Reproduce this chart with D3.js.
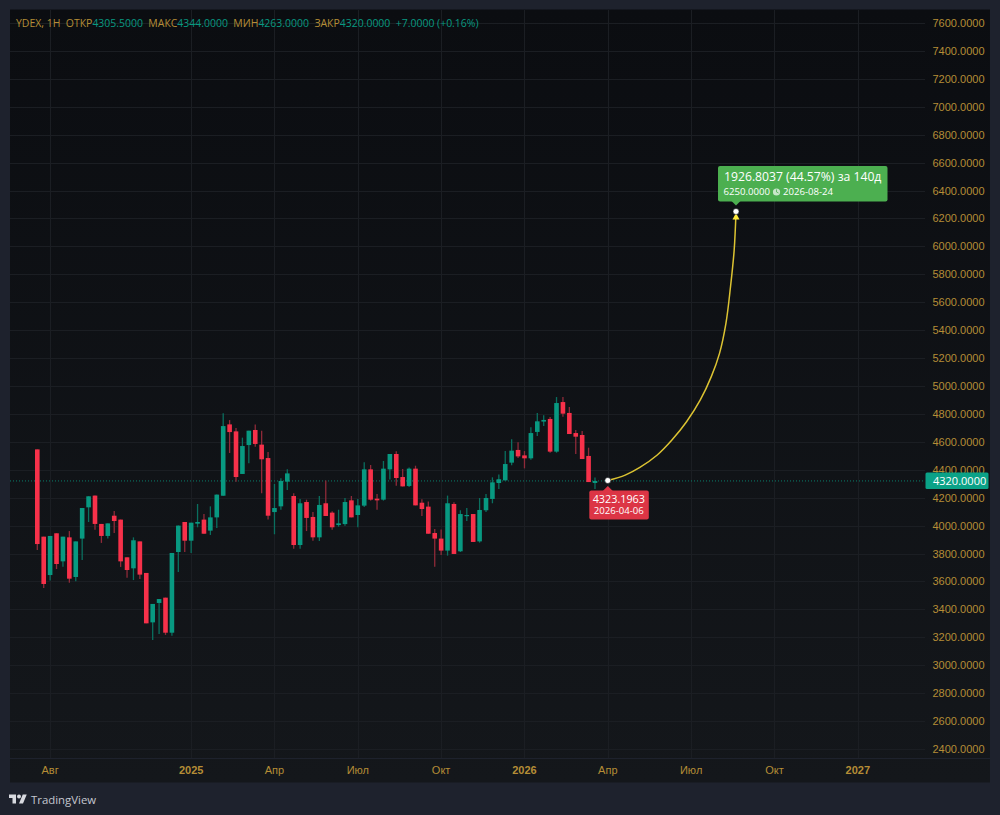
<!DOCTYPE html>
<html>
<head>
<meta charset="utf-8">
<script src="https://cdn.jsdelivr.net/npm/d3@7"></script>
<style>
  html, body { margin: 0; padding: 0; background: #1e222d; }
  svg { display: block; font-family: "Open Sans", "Noto Sans", sans-serif; }
</style>
</head>
<body>
<svg id="chart" width="1000" height="815"></svg>
<script>
var firstWeek = "2024-07-22";
var opens = [4546,3921,3646,3945,3744,3916,3632,3907,4131,4215,4012,3926,4071,4043,3773,3694,3887,3661,3307,3446,3484,3233,3811,4026,3892,4014,4043,3964,4059,4214,4725,4675,4370,4577,4685,4580,4484,4097,4138,4315,4212,3861,4169,4062,3916,4160,4093,4004,4011,4181,4076,4143,4403,4193,4186,4403,4513,4348,4284,4408,4164,4136,3947,3907,3821,4155,3816,4069,4083,3887,4110,4191,4305,4324,4451,4542,4503,4482,4671,4745,4764,4530,4885,4807,4663,4649,4499,4305.5];
var highs = [4546,3921,3926,3945,3921,3961,3887,4126,4210,4215,4012,4016,4105,4043,3773,3916,3887,3661,3439,3474,3484,3804,4000,4026,4021,4155,4083,4138,4222,4804,4756,4699,4630,4680,4725,4680,4527,4298,4339,4403,4231,4191,4186,4097,4212,4324,4102,4114,4198,4212,4191,4453,4434,4226,4463,4513,4532,4406,4417,4429,4188,4172,3976,3973,4215,4167,4110,4126,4083,4198,4226,4346,4367,4534,4618,4597,4534,4704,4807,4790,4778,4921,4921,4850,4685,4678,4558,4344];
var lows = [3825,3553,3606,3689,3706,3591,3601,3754,4026,3971,3876,3907,3947,3704,3627,3610,3618,3300,3181,3224,3217,3212,3668,3811,3804,3988,3942,3933,3983,4214,4520,4315,4370,4446,4565,4231,4043,3938,4114,4255,3835,3835,3961,3892,3890,4069,3971,3992,3999,4059,3988,4133,4179,4114,4179,4331,4286,4281,4277,4145,4069,3942,3706,3790,3785,3797,3811,4033,3883,3878,4098,4160,4262,4324,4432,4484,4410,4472,4642,4714,4522,4522,4780,4656,4513,4477,4312,4263];
var closes = [3868,3582,3926,3725,3921,3620,3887,4126,4210,4012,3926,4016,4033,3744,3682,3895,3649,3300,3439,3474,3233,3804,4000,3892,4021,4026,3942,4059,4222,4713,4670,4348,4570,4680,4585,4475,4071,4126,4320,4374,3861,4160,4055,3916,4148,4069,3988,4016,4169,4059,4145,4403,4186,4181,4408,4513,4341,4281,4408,4145,4119,3942,3907,3821,4160,3797,4083,4076,3883,4112,4198,4310,4332,4441,4537,4496,4482,4663,4747,4757,4530,4878,4802,4656,4637,4477,4312,4320];

var priceTicks = [2400,2600,2800,3000,3200,3400,3600,3800,4000,4200,4400,4600,4800,5000,5200,5400,5600,5800,6000,6200,6400,6600,6800,7000,7200,7400,7600];
var timeTicks = ["2024-08-05","2025-01-06","2025-04-07","2025-07-07","2025-10-06","2026-01-05","2026-04-06","2026-07-06","2026-10-05","2027-01-04"];
var timeLabels = ["Авг","2025","Апр","Июл","Окт","2026","Апр","Июл","Окт","2027"];

var curveDates = ["2026-04-06","2026-04-25","2026-05-11","2026-05-30","2026-06-15","2026-07-01","2026-07-16","2026-07-28","2026-08-06","2026-08-13","2026-08-18","2026-08-22","2026-08-24"];
var curvePrices = [4323.1963,4362,4417,4506,4613,4744,4900,5067,5234,5449,5711,5974,6250];

var lastClose = 4320;
var axisColor = "#b58d36", upColor = "#089981", downColor = "#f7314a";

var parseDate = d3.utcParse("%Y-%m-%d");
var svg = d3.select("#chart");

var x = d3.scaleUtc()
  .domain([parseDate(firstWeek), parseDate("2027-01-04")])
  .range([37.3, 857.8]);
var y = d3.scaleLinear().domain([2400, 7600]).range([749, 23]);

var weeks = opens.map(function(d, i) { return d3.utcMonday.offset(parseDate(firstWeek), i); });

var defs = svg.append("defs");
var grad = defs.append("linearGradient").attr("id", "panelBg").attr("x1", 0).attr("x2", 0).attr("y1", 0).attr("y2", 1);
grad.append("stop").attr("offset", "0%").attr("stop-color", "#0b0d11");
grad.append("stop").attr("offset", "100%").attr("stop-color", "#14171b");

svg.append("rect").attr("width", 1000).attr("height", 815).attr("fill", "#1e222d");
svg.append("rect").attr("x", 10).attr("y", 9.5).attr("width", 980).attr("height", 773)
  .attr("fill", "url(#panelBg)");

// grid
svg.append("g").selectAll("line").data(priceTicks).join("line")
  .attr("x1", 10).attr("x2", 925)
  .attr("y1", function(d) { return Math.round(y(d)) + 0.5; })
  .attr("y2", function(d) { return Math.round(y(d)) + 0.5; })
  .attr("stroke", "#1b1e23");
svg.append("g").selectAll("line").data(timeTicks).join("line")
  .attr("x1", function(d) { return Math.round(x(parseDate(d))) + 0.5; })
  .attr("x2", function(d) { return Math.round(x(parseDate(d))) + 0.5; })
  .attr("y1", 10).attr("y2", 758)
  .attr("stroke", "#1b1e23");
svg.append("line").attr("x1", 10).attr("x2", 990).attr("y1", 758.5).attr("y2", 758.5).attr("stroke", "#1e222d");

// axes
var yAxis = d3.axisRight(y).tickValues(priceTicks).tickFormat(d3.format(".4f")).tickSize(0).tickPadding(0);
var gy = svg.append("g").attr("transform", "translate(932.5,0)").call(yAxis);
gy.select(".domain").remove();
gy.selectAll("text").attr("fill", axisColor).style("font-size", "11px");

var xAxis = d3.axisBottom(x)
  .tickValues(timeTicks.map(parseDate))
  .tickFormat(function(d, i) { return timeLabels[i]; })
  .tickSize(0).tickPadding(0);
var gx = svg.append("g").attr("transform", "translate(-0.5,766)").call(xAxis);
gx.select(".domain").remove();
gx.selectAll("text").attr("fill", axisColor).style("font-size", "11px")
  .style("font-weight", function(d, i) { return /^\d+$/.test(timeLabels[i]) ? 700 : 400; });

// last price line
svg.append("line").attr("x1", 10).attr("x2", 925)
  .attr("y1", y(lastClose)).attr("y2", y(lastClose))
  .attr("stroke", upColor).attr("stroke-dasharray", "1 2").attr("opacity", 0.8);

// candles
var candles = svg.append("g").selectAll("g").data(weeks).join("g");
candles.append("line")
  .attr("x1", function(d) { return x(d); }).attr("x2", function(d) { return x(d); })
  .attr("y1", function(d, i) { return y(highs[i]); })
  .attr("y2", function(d, i) { return y(lows[i]); })
  .attr("stroke", function(d, i) { return closes[i] >= opens[i] ? "#0a6f5f" : "#8f2a39"; })
  .attr("stroke-width", 1.3);
candles.append("rect")
  .attr("x", function(d) { return x(d) - 2.3; })
  .attr("width", 4.6)
  .attr("y", function(d, i) { return y(Math.max(opens[i], closes[i])); })
  .attr("height", function(d, i) { return Math.max(1.2, Math.abs(y(opens[i]) - y(closes[i]))); })
  .attr("fill", function(d, i) { return closes[i] >= opens[i] ? upColor : downColor; });

// projection curve
var curveLine = d3.line()
  .x(function(d) { return x(parseDate(d)); })
  .y(function(d, i) { return y(curvePrices[i]); })
  .curve(d3.curveCatmullRom);
svg.append("path").datum(curveDates).attr("d", curveLine)
  .attr("fill", "none").attr("stroke", "#dcc332").attr("stroke-width", 1.5);

var startX = x(parseDate(curveDates[0])), startY = y(curvePrices[0]);
var endX = x(parseDate(curveDates[curveDates.length - 1])), endY = y(curvePrices[curvePrices.length - 1]);

svg.append("path").attr("d", "M" + endX + "," + (endY + 1.5) + "l3.5,6.5h-7z").attr("fill", "#ffeb3b");
[[startX, startY], [endX, endY]].forEach(function(p) {
  svg.append("circle").attr("cx", p[0]).attr("cy", p[1]).attr("r", 3)
    .attr("fill", "#fff").attr("stroke", "#0f1216").attr("stroke-width", 0.6);
});

// start label
var redBox = svg.append("g").attr("transform", "translate(" + startX + "," + startY + ")");
redBox.append("path").attr("d", "M0,5.5l5,5h-10z").attr("fill", "#dc3545");
redBox.append("rect").attr("x", -18.5).attr("y", 10).attr("width", 59.5).attr("height", 29).attr("rx", 2).attr("fill", "#dc3545");
redBox.append("text").attr("x", 11).attr("y", 22.5).attr("text-anchor", "middle")
  .attr("fill", "#fff").style("font-size", "10.8px").style("font-weight", 500).text("4323.1963");
redBox.append("text").attr("x", 11).attr("y", 34).attr("text-anchor", "middle")
  .attr("fill", "#fff").style("font-size", "9.6px").style("font-weight", 500).text("2026-04-06");

// end label
var greenBox = svg.append("g").attr("transform", "translate(" + endX + "," + endY + ")");
greenBox.append("path").attr("d", "M0,-6l-5,-5h10z").attr("fill", "#4caf50");
greenBox.append("rect").attr("x", -18).attr("y", -45.5).attr("width", 169.5).attr("height", 35.5).attr("rx", 2).attr("fill", "#4caf50");
greenBox.append("text").attr("x", -12).attr("y", -30.5).attr("fill", "#fff").style("font-size", "12.2px").style("font-weight", 500)
  .text("1926.8037 (44.57%) за 140д");
greenBox.append("text").attr("x", -12.5).attr("y", -16.5).attr("fill", "#fff").style("font-size", "9.6px").style("font-weight", 500)
  .text("6250.0000");
greenBox.append("circle").attr("cx", 40.5).attr("cy", -19.5).attr("r", 3.6).attr("fill", "#c8e6c9");
greenBox.append("path").attr("d", "M40.5,-22v2.5l2,1").attr("fill", "none").attr("stroke", "#4caf50").attr("stroke-width", 0.8);
greenBox.append("text").attr("x", 47).attr("y", -16.5).attr("fill", "#fff").style("font-size", "9.6px").style("font-weight", 500)
  .text("2026-08-24");

// price tag
svg.append("rect").attr("x", 925.5).attr("y", y(lastClose) - 8.5).attr("width", 63).attr("height", 16.5).attr("rx", 1.5).attr("fill", "#0aa287");
svg.append("text").attr("x", 933).attr("y", y(lastClose) + 3.8).attr("fill", "#fff").style("font-size", "11px").text("4320.0000");

// header
var headerParts = [
  ["YDEX, 1H  ОТКР", axisColor], ["4305.5000", upColor],
  ["  МАКС", axisColor], ["4344.0000", upColor],
  ["  МИН", axisColor], ["4263.0000", upColor],
  ["  ЗАКР", axisColor], ["4320.0000", upColor],
  ["  +7.0000 (+0.16%)", upColor]
];
svg.append("text").attr("x", 16).attr("y", 26.8).style("font-size", "10.46px").attr("xml:space", "preserve")
  .style("white-space", "pre")
  .selectAll("tspan").data(headerParts).join("tspan")
  .attr("fill", function(d) { return d[1]; })
  .text(function(d) { return d[0]; });

// logo
var logo = svg.append("g").attr("transform", "translate(9,792.5) scale(0.5)").attr("fill", "#d8dae0");
logo.append("path").attr("d", "M14 22H7V11H0V4h14v18zM28 22h-8l7.5-18h8L28 22z");
logo.append("circle").attr("cx", 20).attr("cy", 8).attr("r", 4);
svg.append("text").attr("x", 31).attr("y", 804).attr("fill", "#c4c7cf").style("font-size", "11.4px").text("TradingView");
</script>
</body>
</html>
